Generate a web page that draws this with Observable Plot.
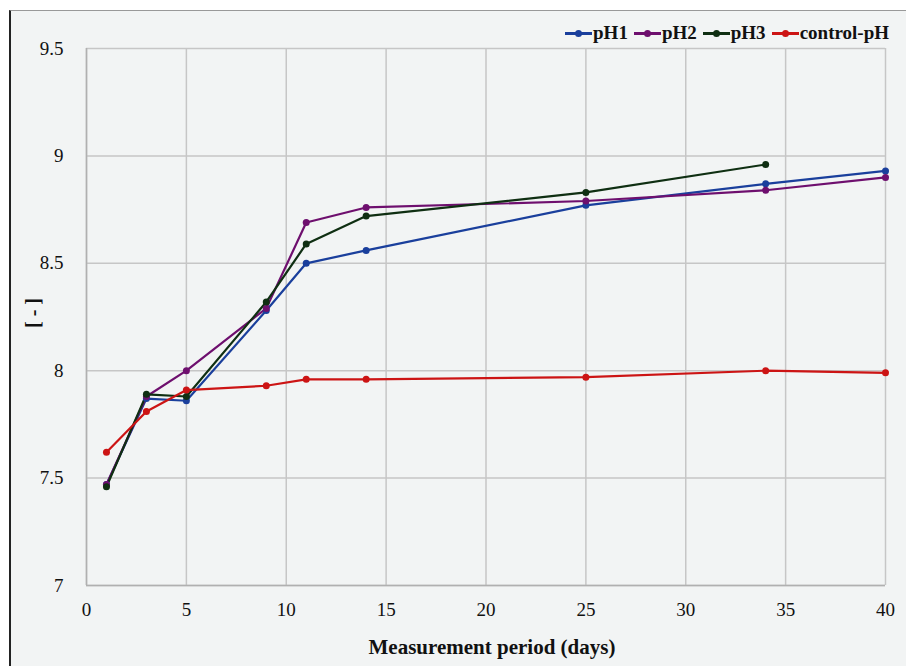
<!DOCTYPE html>
<html>
<head>
<meta charset="utf-8">
<script src="https://cdn.jsdelivr.net/npm/d3@7"></script>
<script src="https://cdn.jsdelivr.net/npm/@observablehq/plot@0.6"></script>
<style>
  html, body { margin: 0; padding: 0; background: #ffffff; }
  #wrap { position: relative; width: 906px; height: 666px; overflow: hidden; }
  #frame { position: absolute; left: 9px; top: 10px; width: 910px; height: 670px;
           background: #f2f4f4; border-left: 2px solid #222; border-top: 1px solid #999; }
  #chart { position: absolute; left: 0; top: 0; }
  #legend { position: absolute; right: 17px; top: 22px; display: flex; gap: 6px; align-items: center;
            font-weight: bold; font-size: 19px; color: #111; }
  .item { display: flex; align-items: center; gap: 1px; }
  .sw { position: relative; width: 27px; height: 10px; }
  .sw .ln { position: absolute; left: 0; right: 0; top: 4px; height: 2.5px; }
  .sw .dt { position: absolute; left: 10px; top: 1.5px; width: 7px; height: 7px; border-radius: 50%; }
  #ylab { position: absolute; left: 33px; top: 313px; transform: translate(-50%, -50%) rotate(-90deg);
          font-weight: bold; font-size: 20px; color: #111; white-space: nowrap; }
  #xlab { position: absolute; left: 492px; top: 647px; transform: translate(-50%, -50%);
          font-weight: bold; font-size: 21px; color: #111; white-space: nowrap; }
  svg text { font-family: 'Liberation Serif' !important; }
</style>
</head>
<body>
<div id="wrap">
  <div id="frame"></div>
  <div id="chart"></div>
  <div id="legend" style="font-family:'Liberation Serif'"></div>
  <div id="ylab" style="font-family:'Liberation Serif'">[ - ]</div>
  <div id="xlab" style="font-family:'Liberation Serif'">Measurement period (days)</div>
</div>
<script>
const seriesNames = ["pH1", "pH2", "pH3", "control-pH"];
const seriesColors = ["#1a3f9c", "#6e0f6e", "#0f2f12", "#cc1414"];

const daysPH1 = [1, 3, 5, 9, 11, 14, 25, 34, 40];
const valuesPH1 = [7.47, 7.87, 7.86, 8.28, 8.50, 8.56, 8.77, 8.87, 8.93];

const daysPH2 = [1, 3, 5, 9, 11, 14, 25, 34, 40];
const valuesPH2 = [7.47, 7.88, 8.00, 8.29, 8.69, 8.76, 8.79, 8.84, 8.90];

const daysPH3 = [1, 3, 5, 9, 11, 14, 25, 34];
const valuesPH3 = [7.46, 7.89, 7.88, 8.32, 8.59, 8.72, 8.83, 8.96];

const daysControl = [1, 3, 5, 9, 11, 14, 25, 34, 40];
const valuesControl = [7.62, 7.81, 7.91, 7.93, 7.96, 7.96, 7.97, 8.00, 7.99];

const xTicks = [0, 5, 10, 15, 20, 25, 30, 35, 40];
const yTicks = [7, 7.5, 8, 8.5, 9, 9.5];

const allDays = [daysPH1, daysPH2, daysPH3, daysControl];
const allValues = [valuesPH1, valuesPH2, valuesPH3, valuesControl];
const data = [];
allDays.forEach((ds, i) => ds.forEach((d, j) => data.push({series: seriesNames[i], day: d, value: allValues[i][j]})));

const chart = Plot.plot({
  width: 906,
  height: 666,
  marginLeft: 86,
  marginRight: 21,
  marginTop: 48,
  marginBottom: 81,
  style: {background: "transparent", fontFamily: "'Liberation Serif', serif", fontSize: "19px", color: "#111"},
  x: {domain: [0, 40], ticks: xTicks, tickSize: 0, tickPadding: 15, label: null},
  y: {domain: [7, 9.5], ticks: yTicks, tickSize: 0, tickPadding: 23, label: null, tickFormat: d => String(d)},
  color: {domain: seriesNames, range: seriesColors},
  marks: [
    Plot.gridX(xTicks, {stroke: "#c6c6c6", strokeOpacity: 1, strokeWidth: 1.5}),
    Plot.gridY(yTicks, {stroke: "#c6c6c6", strokeOpacity: 1, strokeWidth: 1.5}),
    Plot.ruleX([0], {stroke: "#b0b0b0", strokeWidth: 1.5}),
    Plot.ruleY([7], {stroke: "#b0b0b0", strokeWidth: 1.5}),
    Plot.axisX(xTicks, {tickSize: 0, tickPadding: 17, fontSize: 19, fill: "#111"}),
    Plot.axisY(yTicks, {tickSize: 0, tickPadding: 23, fontSize: 19, fill: "#111", tickFormat: d => String(d)}),
    Plot.line(data, {x: "day", y: "value", z: "series", stroke: "series", strokeWidth: 2.2}),
    Plot.dot(data, {x: "day", y: "value", fill: "series", r: 3.5})
  ]
});
d3.select(chart).selectAll("text")
  .attr("font-family", "Liberation Serif")
  .style("font-family", "'Liberation Serif'");
document.getElementById("chart").appendChild(chart);

const legend = document.getElementById("legend");
seriesNames.forEach((n, i) => {
  const it = document.createElement("div");
  it.className = "item";
  it.innerHTML = `<span class="sw"><span class="ln" style="background:${seriesColors[i]}"></span><span class="dt" style="background:${seriesColors[i]}"></span></span><span>${n}</span>`;
  legend.appendChild(it);
});
</script>
</body>
</html>
